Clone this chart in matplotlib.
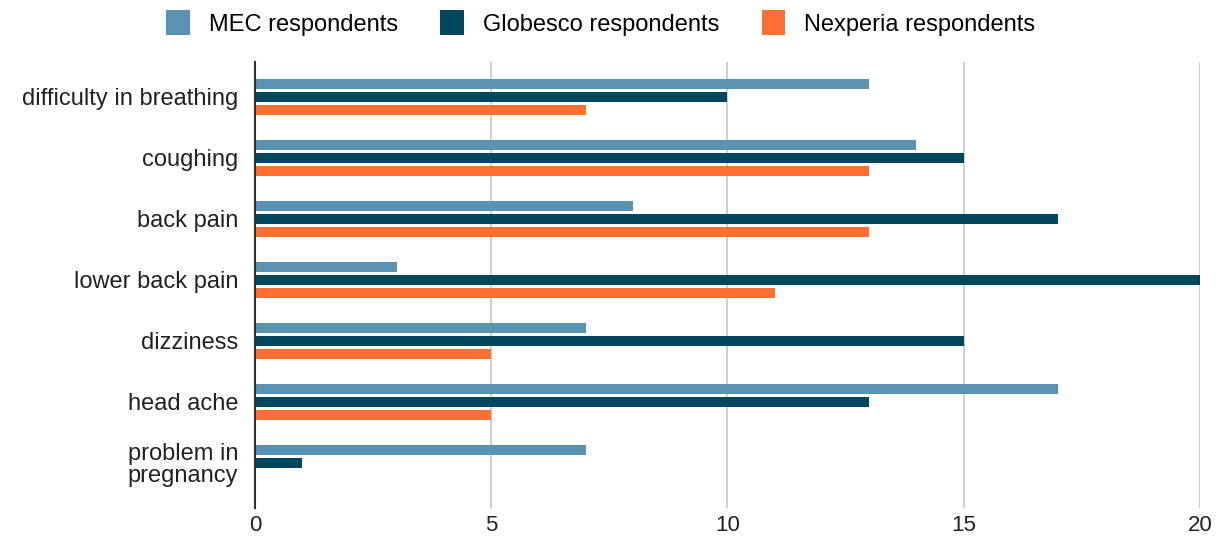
import matplotlib.pyplot as plt
import numpy as np

# Data
symptoms = ['difficulty in breathing', 'coughing', 'back pain', 'lower back pain',
            'dizziness', 'head ache', 'problem in\npregnancy']
mec = [13, 14, 8, 3, 7, 17, 7]
globesco = [10, 15, 17, 20, 15, 13, 1]
nexperia = [7, 13, 13, 11, 5, 5, 0]
series_names = ['MEC respondents', 'Globesco respondents', 'Nexperia respondents']
colors = ['#5a93b1', '#02475e', '#ff6f31']

plt.rcParams['font.family'] = ['Liberation Sans', 'DejaVu Sans']

fig = plt.figure(figsize=(12.21, 5.38), dpi=100)
ax = fig.add_axes([0.2088, 0.0558, 0.774, 0.829])

y = np.arange(len(symptoms))
h = 0.165
off = 0.208
for vals, name, c, d in zip([mec, globesco, nexperia], series_names, colors, [-off, 0, off]):
    ax.barh(y + d, vals, height=h, color=c, label=name, zorder=3)

ax.set_xlim(0, 20)
ax.set_ylim(6.74, -0.574)
ax.set_xticks([0, 5, 10, 15, 20])
ax.set_yticks(y)
ax.set_yticklabels(symptoms, fontsize=17, color='#222222', linespacing=1.0)
ax.tick_params(axis='x', labelsize=16, colors='#222222', length=0, pad=5)
ax.tick_params(axis='y', length=0, pad=12)
ax.grid(axis='x', color='#cccccc', linewidth=1.3, zorder=0)
for s in ['top', 'right', 'bottom']:
    ax.spines[s].set_visible(False)
ax.spines['left'].set_color('#333333')
ax.spines['left'].set_linewidth(1.5)
ax.spines['left'].set_zorder(4)

fig.legend(loc='upper center', bbox_to_anchor=(0.492, 1.02), ncol=3, frameon=False,
           fontsize=17, handlelength=1.0, handleheight=1.2, columnspacing=1.8,
           handletextpad=0.8)

fig.savefig('out.png', dpi=100)
